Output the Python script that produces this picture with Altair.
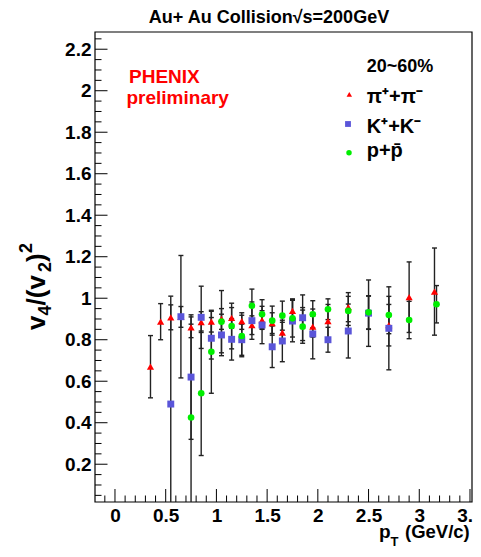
import altair as alt
import pandas as pd
import numpy as np

FONT = "Liberation Sans"
PX_PER_X = 101.43          # pixels per GeV/c in the reference
W, H = 377, 470
X_DOMAIN = [-0.197, -0.197 + W / PX_PER_X]
Y_DOMAIN = [0.018, 2.283]

# ---- data ----
pion_pt = [0.35, 0.45, 0.55, 0.65, 0.75, 0.85, 0.95, 1.05, 1.15, 1.25, 1.35, 1.45,
           1.55, 1.65, 1.75, 1.85, 1.95, 2.1, 2.3, 2.5, 2.7, 2.9, 3.15]
pion_v = [0.67, 0.887, 0.908, 0.91, 0.86, 0.885, 0.887, 0.90, 0.905, 0.89, 0.87, 0.895,
          0.88, 0.834, 0.939, 0.905, 0.863, 0.89, 0.957, 0.93, 0.87, 1.005, 1.032]
pion_err = [0.15, 0.087, 0.06, 0.05, 0.05, 0.05, 0.05, 0.05, 0.05, 0.04, 0.045, 0.045,
            0.05, 0.05, 0.058, 0.05, 0.05, 0.08, 0.07, 0.08, 0.1, 0.17, 0.21]

kaon_pt = [0.55, 0.65, 0.75, 0.85, 0.95, 1.05, 1.15, 1.25, 1.35, 1.45, 1.55, 1.65,
           1.75, 1.85, 1.95, 2.1, 2.3, 2.5, 2.7]
kaon_v = [0.49, 0.911, 0.62, 0.908, 0.807, 0.823, 0.802, 0.80, 0.892, 0.871, 0.766, 0.794,
          0.89, 0.906, 0.828, 0.80, 0.842, 0.928, 0.855]
kaon_err = [0.52, 0.295, 0.3, 0.15, 0.1, 0.1, 0.1, 0.075, 0.09, 0.09, 0.1, 0.1,
            0.1, 0.11, 0.12, 0.06, 0.13, 0.16, 0.2]

proton_pt = [0.75, 0.85, 0.95, 1.05, 1.15, 1.25, 1.35, 1.45, 1.55, 1.65, 1.75, 1.85,
             1.95, 2.1, 2.3, 2.5, 2.7, 2.9, 3.17]
proton_v = [0.425, 0.542, 0.742, 0.887, 0.866, 0.818, 0.964, 0.923, 0.892, 0.916, 0.903, 0.863,
            0.923, 0.947, 0.939, 0.932, 0.919, 0.895, 0.971]
proton_err = [0.45, 0.3, 0.2, 0.15, 0.11, 0.1, 0.08, 0.07, 0.07, 0.07, 0.09, 0.08,
              0.065, 0.05, 0.07, 0.08, 0.09, 0.09, 0.09]

x_major = [0, 0.5, 1, 1.5, 2, 2.5, 3, 3.5]
y_major = [0.2, 0.4, 0.6, 0.8, 1.0, 1.2, 1.4, 1.6, 1.8, 2.0, 2.2]
x_minor = [round(v, 2) for v in np.arange(-0.1, 3.52, 0.1) if round(v * 10) % 5 != 0]
y_minor = [round(v, 2) for v in np.arange(0.05, 2.27, 0.05) if round(v * 20) % 4 != 0]

PION_C, KAON_C, PROTON_C = "#ff0000", "#5a55d9", "#00ee00"

xscale = alt.Scale(domain=X_DOMAIN, nice=False, zero=False)
yscale = alt.Scale(domain=Y_DOMAIN, nice=False, zero=False)

XAX = alt.Axis(values=x_major, format="~g", ticks=False, domain=False, grid=False,
               labelFont=FONT, labelFontWeight="bold", labelFontSize=19,
               labelColor="black", labelPadding=4, labelFlush=False,
               labelOverlap=False, title=None)
YAX = alt.Axis(values=y_major, format="~g", ticks=False, domain=False, grid=False,
               labelFont=FONT, labelFontWeight="bold", labelFontSize=19,
               labelColor="black", labelPadding=4, labelFlush=False,
               labelOverlap=False, title=None)


def sdf(pt, v, e, name):
    return pd.DataFrame({"pt": pt, "v": v,
                         "lo": [a - b for a, b in zip(v, e)],
                         "hi": [a + b for a, b in zip(v, e)],
                         "sp": name})


df_all = pd.concat([sdf(pion_pt, pion_v, pion_err, "pi"),
                    sdf(kaon_pt, kaon_v, kaon_err, "K"),
                    sdf(proton_pt, proton_v, proton_err, "p")])

X = lambda f: alt.X(f, type="quantitative", scale=xscale, axis=XAX)
Y = lambda f: alt.Y(f, type="quantitative", scale=yscale, axis=YAX)

BAR_C = "#222222"
bars = alt.Chart(df_all).mark_rule(color=BAR_C, strokeWidth=1.4, clip=True).encode(
    x=X("pt"), y=Y("lo"), y2="hi")
cap_lo = alt.Chart(df_all).mark_rule(color=BAR_C, strokeWidth=1.4, clip=True,
                                     xOffset=-2.5, x2Offset=2.5).encode(
    x=X("pt"), x2="pt", y=Y("lo"))
cap_hi = alt.Chart(df_all).mark_rule(color=BAR_C, strokeWidth=1.4, clip=True,
                                     xOffset=-2.5, x2Offset=2.5).encode(
    x=X("pt"), x2="pt", y=Y("hi"))

pts_pi = alt.Chart(sdf(pion_pt, pion_v, pion_err, "pi")).mark_point(
    shape="triangle-up", filled=True, size=52, color=PION_C, opacity=1).encode(x=X("pt"), y=Y("v"))
pts_k = alt.Chart(sdf(kaon_pt, kaon_v, kaon_err, "K")).mark_point(
    shape="square", filled=True, size=48, color=KAON_C, opacity=1).encode(x=X("pt"), y=Y("v"))
pts_p = alt.Chart(sdf(proton_pt, proton_v, proton_err, "p")).mark_point(
    shape="circle", filled=True, size=44, color=PROTON_C, opacity=1).encode(x=X("pt"), y=Y("v"))

# frame and axis ticks (ROOT style, inside the frame)
frame = alt.Chart(pd.DataFrame({"t": [0]})).mark_rect(
    fillOpacity=0, stroke="black", strokeWidth=1.2).encode(
    x=alt.value(0), x2=alt.value(W), y=alt.value(0), y2=alt.value(H))
xmaj = alt.Chart(pd.DataFrame({"t": x_major})).mark_rule(color="black", strokeWidth=1).encode(
    x=X("t"), y=alt.value(H), y2=alt.value(H - 13))
xmin = alt.Chart(pd.DataFrame({"t": x_minor})).mark_rule(color="black", strokeWidth=1).encode(
    x=X("t"), y=alt.value(H), y2=alt.value(H - 6.5))
ymaj = alt.Chart(pd.DataFrame({"t": y_major})).mark_rule(color="black", strokeWidth=1).encode(
    y=Y("t"), x=alt.value(0), x2=alt.value(12.5))
ymin = alt.Chart(pd.DataFrame({"t": y_minor})).mark_rule(color="black", strokeWidth=1).encode(
    y=Y("t"), x=alt.value(0), x2=alt.value(6.5))


def label(txt, px, py, size=19, color="black", align="left", angle=0):
    return alt.Chart(pd.DataFrame({"t": [txt]})).mark_text(
        align=align, baseline="alphabetic", font=FONT, fontSize=size, fontWeight="bold",
        color=color, angle=angle).encode(x=alt.value(px), y=alt.value(py), text="t:N")


def marker(shape, color, px, py, size):
    return alt.Chart(pd.DataFrame({"t": [0]})).mark_point(
        shape=shape, filled=True, size=size, color=color, opacity=1).encode(
        x=alt.value(px), y=alt.value(py))


texts = [
    label("Au+ Au Collision√s=200GeV", 174, -9, size=18, align="center"),
    label("PHENIX", 34, 51, color="#ff0000"),
    label("preliminary", 31.5, 72, color="#ff0000"),
    label("20~60%", 271.7, 40, size=18),
    label("π⁺+π⁻", 271.7, 71, size=20),
    label("K⁺+K⁻", 271.7, 101, size=20),
    label("p+p̄", 271.7, 125, size=20),
    # x title: p_T (GeV/c)
    label("p", 284, 505.5),
    label("T", 295.5, 514, size=13),
    label("(GeV/c)", 310, 505.5, size=18.5),
    # y title: v_4/(v_2)^2, rotated
    label("v", -50, 298, size=26, angle=270),
    label("4", -44, 283.5, size=18, angle=270),
    label("/(v", -50, 273.5, size=26, angle=270),
    label("2", -44, 240, size=18, angle=270),
    label(")", -50, 230, size=26, angle=270),
    label("2", -63, 221, size=18, angle=270),
]
legend_marks = [
    marker("triangle-up", PION_C, 254.3, 62.3, 30),
    marker("square", KAON_C, 253, 92, 34),
    marker("circle", PROTON_C, 254, 120.7, 30),
]

chart = alt.layer(
    xmin, xmaj, ymin, ymaj, frame, bars, cap_lo, cap_hi, pts_pi, pts_k, pts_p,
    *legend_marks, *texts
).properties(
    width=W, height=H,
    background="white",
    autosize=alt.AutoSizeParams(type="none"),
    padding={"left": 87, "top": 24, "right": 1, "bottom": 45},
).configure_view(stroke=None)

chart.save("out.html", embed_options={"renderer": "svg", "actions": False})
